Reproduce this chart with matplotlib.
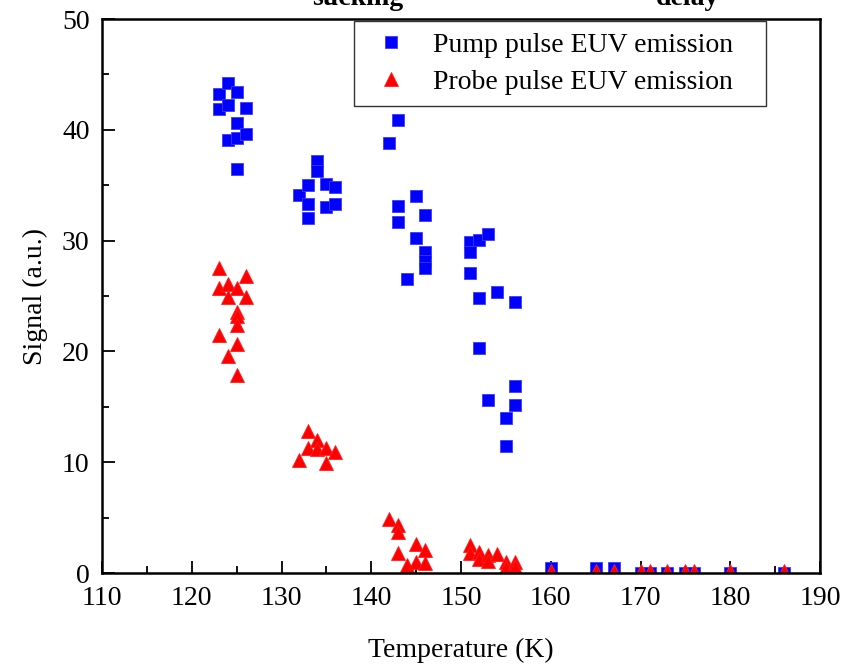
import matplotlib
matplotlib.use("Agg")
import matplotlib.pyplot as plt
from matplotlib.ticker import MultipleLocator

plt.rcParams["font.family"] = ["Liberation Serif", "DejaVu Serif"]

# pump pulse EUV emission (blue squares)
pump_T = [123, 123, 124, 124, 124, 125, 125, 125, 125, 126, 126,
          132, 133, 133, 133, 134, 134, 135, 135, 136, 136,
          142, 143, 143, 143, 144, 145, 145, 146, 146, 146, 146,
          151, 151, 151, 152, 152, 152, 153, 153, 154, 155, 155, 156, 156, 156,
          160, 165, 167, 170, 171, 173, 175, 176, 180, 186]
pump_signal = [43.2, 41.9, 44.25, 42.2, 39.1, 43.4, 40.6, 39.3, 36.5, 42.0, 39.65,
               34.1, 35.0, 33.3, 32.0, 37.2, 36.3, 35.1, 33.0, 34.8, 33.3,
               38.8, 40.9, 33.1, 31.65, 26.5, 34.0, 30.2, 32.3, 29.0, 28.2, 27.5,
               29.9, 29.0, 27.1, 30.1, 24.8, 20.35, 30.6, 15.65, 25.4, 14.0, 11.5, 24.5, 16.9, 15.2,
               0.45, 0.45, 0.45, 0.0, 0.0, 0.0, 0.0, 0.0, 0.0, 0.0]

# probe pulse EUV emission (red triangles)
probe_T = [123, 123, 123, 124, 124, 124, 125, 125, 125, 125, 125, 125, 126, 126,
           132, 133, 133, 134, 134, 135, 135, 136,
           142, 143, 143, 143, 144, 145, 145, 146, 146,
           151, 151, 152, 152, 153, 153, 154, 155, 155, 156, 156,
           160, 165, 167, 170, 171, 173, 175, 176, 180, 186]
probe_signal = [27.5, 25.7, 21.5, 26.1, 24.9, 19.6, 25.7, 23.6, 23.2, 22.4, 20.7, 17.85, 26.8, 24.95,
                10.2, 12.8, 11.3, 12.0, 11.2, 11.3, 9.95, 10.95,
                4.9, 4.3, 3.7, 1.8, 0.7, 2.65, 1.0, 2.1, 0.9,
                2.5, 1.8, 1.9, 1.3, 1.6, 1.1, 1.75, 1.0, 0.55, 1.0, 0.55,
                0.2, 0.2, 0.2, 0.2, 0.2, 0.2, 0.2, 0.2, 0.2, 0.2]

fig = plt.figure(figsize=(8.46, 6.65), dpi=100)
ax = fig.add_axes([0.1206, 0.1383, 0.8487, 0.8331])

ax.plot(pump_T, pump_signal, ls="none", marker="s", ms=9, color="#0000ff",
        mec="#3b3bff", mew=0.6, label="Pump pulse EUV emission")
ax.plot(probe_T, probe_signal, ls="none", marker="^", ms=9.5, color="#ff0000",
        mec="#ff2020", mew=0.6, label="Probe pulse EUV emission")

ax.set_xlim(110, 190)
ax.set_ylim(0, 50)
ax.xaxis.set_major_locator(MultipleLocator(10))
ax.xaxis.set_minor_locator(MultipleLocator(5))
ax.yaxis.set_major_locator(MultipleLocator(10))
ax.yaxis.set_minor_locator(MultipleLocator(5))
ax.tick_params(which="both", direction="in", top=False, right=False, width=1.3,
               labelsize=20, pad=9)
ax.tick_params(which="major", length=9)
ax.tick_params(which="minor", length=5)
for s in ax.spines.values():
    s.set_linewidth(1.8)

ax.set_xlabel("Temperature (K)", fontsize=20, labelpad=20)
ax.set_ylabel("Signal (a.u.)", fontsize=20, labelpad=10)

# legend box stretched to the same width as in the source figure
leg = ax.legend(loc="upper left", bbox_to_anchor=(0.351, 0.848, 0.574, 0.148),
                mode="expand", borderaxespad=0,
                fontsize=20, frameon=True, fancybox=False, framealpha=1,
                edgecolor="#333333", handletextpad=0.63, borderpad=0.4,
                labelspacing=0.41, handlelength=1.83)
leg.get_frame().set_linewidth(1.0)

# title text cut off at the top of the image
fig.text(358 / 846, 1 - 5 / 665, "sucking", ha="center", va="baseline",
         fontsize=20, fontweight="bold")
fig.text(688 / 846, 1 - 5 / 665, "delay", ha="center", va="baseline",
         fontsize=20, fontweight="bold")

fig.savefig("out.png", dpi=100)
